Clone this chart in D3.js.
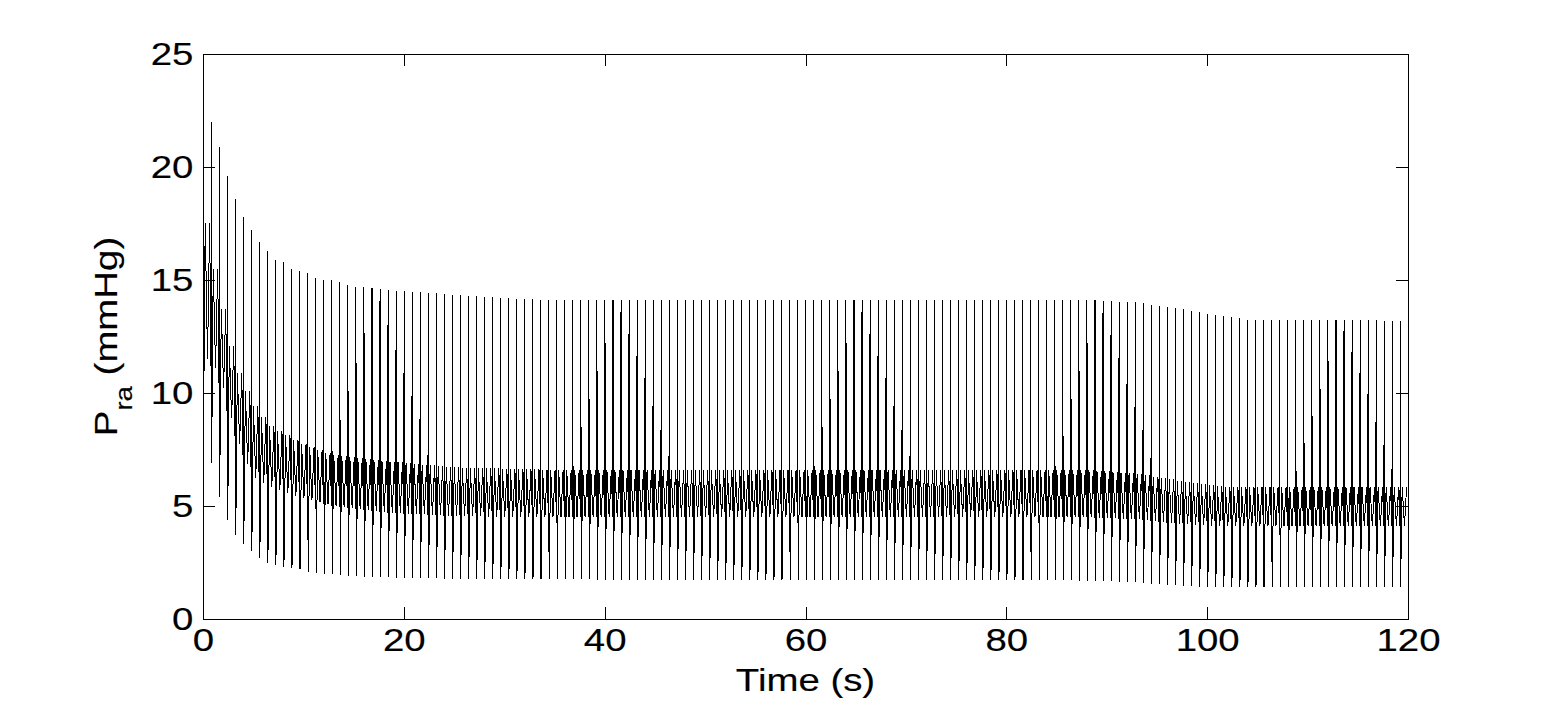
<!DOCTYPE html>
<html>
<head>
<meta charset="utf-8">
<script src="https://cdn.jsdelivr.net/npm/d3@7"></script>
<style>
  body { margin: 0; background: #fff; }
  text { font-family: 'Liberation Sans', Arial, sans-serif; fill: #000; stroke: #000; stroke-width: 0.15px; }
</style>
</head>
<body>
<svg width="1556" height="707"></svg>
<script>
// heart beat period (s) and number of beats in the 120 s run
const period = 0.8;
const nBeats = 150;

// one beat: time after beat start (s) and which level the trace reaches
const shapePhase = [0, 0.03, 0.06, 0.22, 0.45, 0.66];
const shapeLevel = ['lo', 'peak', 'trough', 'hi', 'lo', 'hi'];

// envelope (time s, mmHg)
const peakT = [0, 0.8, 1.6, 2.4, 3.2, 4.0, 4.8, 5.6, 6.4, 7.2, 8.0, 8.8, 9.6, 10.4, 11.2, 12.0,
  12.8, 13.6, 14.4, 15.2, 16.0, 16.8, 17.6, 18.4, 25, 30, 35, 89, 93, 97, 100, 104, 120];
const peakV = [20.9, 22.0, 20.9, 19.6, 18.6, 17.8, 17.2, 16.7, 16.3, 15.9, 15.8, 15.5, 15.4, 15.3, 15.1, 15.0,
  15.0, 14.9, 14.8, 14.7, 14.7, 14.65, 14.6, 14.55, 14.35, 14.2, 14.1, 14.1, 14.0, 13.75, 13.5, 13.25, 13.2];

const troughT = [0, 0.8, 1.6, 2.4, 3.2, 4.0, 4.8, 5.6, 6.4, 7.2, 8.0, 8.8, 9.6, 10.4, 11.2, 12.0,
  12.8, 13.6, 14.4, 15.2, 16.0, 16.8, 17.6, 18.4, 25, 35, 85, 92, 96, 100, 120];
const troughV = [8.7, 6.9, 5.4, 4.4, 3.7, 3.3, 3.0, 2.7, 2.5, 2.4, 2.3, 2.25, 2.2, 2.1, 2.05, 2.0,
  2.0, 1.95, 1.9, 1.9, 1.88, 1.86, 1.85, 1.84, 1.78, 1.75, 1.72, 1.65, 1.5, 1.42, 1.4];

const bandT = [0, 1.2, 2.8, 4.5, 6.2, 9.2, 12.4, 18.4, 25, 35, 88, 93, 97, 101, 120];
const bandHi = [17.5, 14.5, 11.3, 9.6, 8.6, 7.8, 7.3, 6.96, 6.7, 6.6, 6.6, 6.4, 6.1, 5.85, 5.85];
const bandLo = [11.5, 10.9, 8.2, 6.3, 5.85, 5.4, 5.04, 4.7, 4.55, 4.5, 4.5, 4.4, 4.2, 4.1, 4.1];

const xTicks = [0, 20, 40, 60, 80, 100, 120];
const yTicks = [0, 5, 10, 15, 20, 25];

const svg = d3.select('svg');
const pLeft = 203, pRight = 1408, pTop = 54, pBottom = 619;
const fs = 32, sx = 1.2;

const x = d3.scaleLinear().domain([0, 120]).range([pLeft, pRight]);
const y = d3.scaleLinear().domain([0, 25]).range([pBottom, pTop]);

const level = {
  peak: d3.scaleLinear().domain(peakT).range(peakV).clamp(true),
  trough: d3.scaleLinear().domain(troughT).range(troughV).clamp(true),
  hi: d3.scaleLinear().domain(bandT).range(bandHi).clamp(true),
  lo: d3.scaleLinear().domain(bandT).range(bandLo).clamp(true)
};

const series = [];
for (let k = 0; k < nBeats; k++) {
  const t0 = k * period;
  shapePhase.forEach((p, i) => {
    const t = t0 + p;
    if (t <= 120) series.push({ t: t, v: level[shapeLevel[i]](t0) });
  });
}

svg.append('defs').append('clipPath').attr('id', 'clip')
  .append('rect')
  .attr('x', pLeft).attr('y', pTop)
  .attr('width', pRight - pLeft).attr('height', pBottom - pTop);

svg.append('path')
  .datum(series)
  .attr('clip-path', 'url(#clip)')
  .attr('fill', 'none')
  .attr('stroke', '#000')
  .attr('stroke-width', 1)
  .attr('shape-rendering', 'crispEdges')
  .attr('d', d3.line().x((d) => x(d.t)).y((d) => y(d.v)));

// axes, MATLAB style: ticks pointing in on all four sides
const gx = svg.append('g')
  .attr('transform', `translate(0, ${pBottom})`)
  .call(d3.axisBottom(x).tickValues(xTicks).tickSize(-12).tickSizeOuter(0).tickPadding(9));
const gy = svg.append('g')
  .attr('transform', `translate(${pLeft}, 0)`)
  .call(d3.axisLeft(y).tickValues(yTicks).tickSize(-12).tickSizeOuter(0).tickPadding(8));
svg.append('g')
  .attr('transform', `translate(0, ${pTop})`)
  .call(d3.axisTop(x).tickValues(xTicks).tickSize(-12).tickSizeOuter(0).tickFormat(''));
svg.append('g')
  .attr('transform', `translate(${pRight}, 0)`)
  .call(d3.axisRight(y).tickValues(yTicks).tickSize(-12).tickSizeOuter(0).tickFormat(''));

svg.selectAll('.tick line').attr('stroke', '#000').attr('shape-rendering', 'crispEdges');
svg.selectAll('.domain').remove();

gx.attr('font-family', null);
gy.attr('font-family', null);
gx.selectAll('text')
  .attr('font-size', fs)
  .attr('transform', `scale(${sx},1)`);
gy.selectAll('text')
  .attr('font-size', fs)
  .attr('transform', `scale(${sx},1)`);

svg.append('rect')
  .attr('x', pLeft).attr('y', pTop)
  .attr('width', pRight - pLeft).attr('height', pBottom - pTop)
  .attr('fill', 'none')
  .attr('stroke', '#000')
  .attr('shape-rendering', 'crispEdges');

svg.append('text')
  .attr('transform', `translate(${(pLeft + pRight) / 2}, 691) scale(${sx},1)`)
  .attr('text-anchor', 'middle')
  .attr('font-size', fs)
  .text('Time (s)');

const yl = svg.append('text')
  .attr('transform', `translate(117, ${(pTop + pBottom) / 2}) rotate(-90) scale(${sx},1)`)
  .attr('text-anchor', 'middle')
  .attr('font-size', fs);
yl.append('tspan').text('P');
yl.append('tspan').attr('font-size', 23).attr('dy', 15).text('ra');
yl.append('tspan').attr('dy', -15).text(' (mmHg)');
</script>
</body>
</html>
